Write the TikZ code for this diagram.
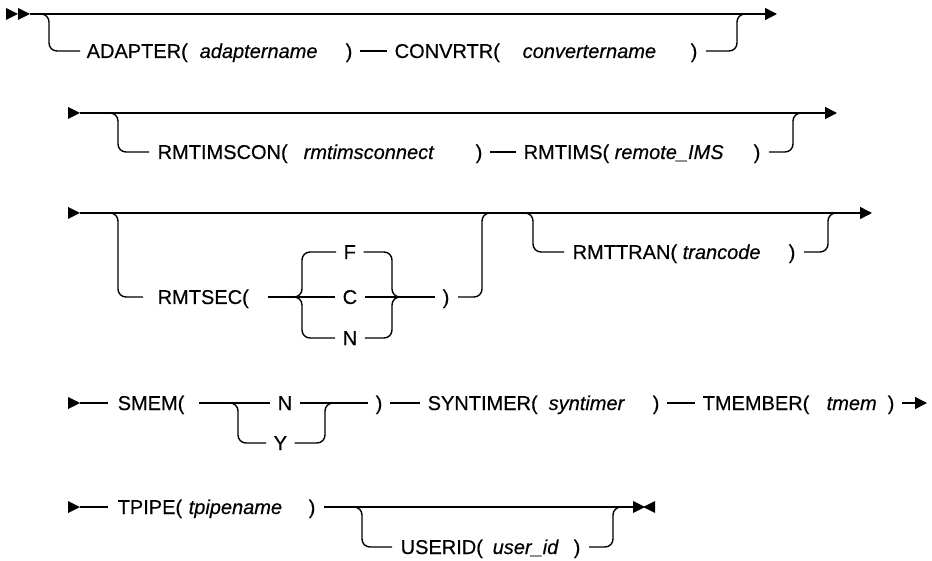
\documentclass[tikz,border=0pt]{standalone}
\usepackage{fontspec}
\setmainfont{Liberation Sans}
\newfontfamily\rrfam[FakeBold=0.4]{Liberation Sans}
\usetikzlibrary{arrows.meta}
\newcommand{\rrfont}{\rrfam\fontsize{20}{24}\selectfont}
\tikzset{
  rr/.style={x=1pt, y=-1pt, line width=1.4pt,
             every node/.style={inner sep=0pt, text height=14pt, text depth=0pt, anchor=west, font=\rrfont}},
  rail/.style={draw, rounded corners=8pt},
  gap/.style={shorten <=7pt, shorten >=7pt},
  var/.style={font=\rrfont\itshape},
  fin/.style={-{Triangle[length=12pt,width=12pt]}},
  tri/.pic={\fill (0,-6) -- (12,0) -- (0,6) -- cycle;}
}

\begin{document}
\begin{tikzpicture}[rr]
\useasboundingbox (0,0) rectangle (932,561);
% row 1
\pic at (6,14) {tri}; \pic at (18,14) {tri};
\coordinate (r1s) at (30,14); \coordinate (r1e) at (777,14);
\coordinate (b1a) at (39,14); \coordinate (b1b) at (745,14);
\node (adp) at (86,51) {ADAPTER(};
\node[var] (adpv) at (199,51) {adaptername};
\node (adpc) at (345,51) {)};
\node (cnv) at (394,51) {CONVRTR(};
\node[var] (cnvv) at (522,51) {convertername};
\node (cnvc) at (690,51) {)};
\draw[rail, fin] (r1s) -- (r1e);
\draw[rail, shorten >=6pt] (b1a) -- ++(10,0) |- (adp.west);
\draw[rail, gap] (adpc.east) -- (cnv.west);
\draw[rail, shorten <=8pt] (cnvc.east) -| ([xshift=-8pt]b1b) -- (b1b);
% row 2
\pic at (68,113) {tri};
\coordinate (r2s) at (80,113); \coordinate (r2e) at (837,113);
\coordinate (b2a) at (110,113); \coordinate (b2b) at (801,113);
\node (rtc) at (157,152) {RMTIMSCON(};
\node[var] (rtcv) at (303,152) {rmtimsconnect};
\node (rtcc) at (475,152) {)};
\node (rti) at (523,152) {RMTIMS(};
\node[var] (rtiv) at (614,152) {remote\_IMS};
\node (rtic) at (753,152) {)};
\draw[rail, fin] (r2s) -- (r2e);
\draw[rail, shorten >=8pt] (b2a) -- ++(8,0) |- (rtc.west);
\draw[rail, gap] (rtcc.east) -- (rti.west);
\draw[rail, shorten <=8pt] (rtic.east) -| ([xshift=-8pt]b2b) -- (b2b);
% row 3
\pic at (68,213) {tri};
\coordinate (r3s) at (80,213); \coordinate (r3e) at (872,213);
\coordinate (b3a) at (110,213); \coordinate (b3b) at (490,213);
\coordinate (b3c) at (525,213); \coordinate (b3d) at (836,213);
\coordinate (cl) at (294,297); \coordinate (cr) at (400,297);
\node (sec) at (157,297) {RMTSEC(};
\node (fF) at (343,252) {F};
\node (fC) at (342,297) {C};
\node (fN) at (342,338) {N};
\node (secc) at (442,297) {)};
\node (tr) at (572,252) {RMTTRAN(};
\node[var] (trv) at (682,252) {trancode};
\node (trc) at (788,252) {)};
\draw[rail, fin] (r3s) -- (r3e);
\draw[rail, shorten >=14pt] (b3a) -- ++(8,0) |- (sec.west);
\draw[rail, shorten <=18pt, shorten >=7pt] (sec.east) -- (fC.west);
\draw[rail, shorten >=7pt] (cl) -- ++(8,0) |- (fF.west);
\draw[rail, shorten >=7pt] (cl) -- ++(8,0) |- (fN.west);
\draw[rail, shorten <=7pt] (fF.east) -| ([xshift=-8pt]cr) -- (cr);
\draw[rail, shorten <=7pt] (fN.east) -| ([xshift=-8pt]cr) -- (cr);
\draw[rail, gap] (fC.east) -- (secc.west);
\draw[rail, shorten <=8pt] (secc.east) -| ([xshift=-8pt]b3b) -- (b3b);
\draw[rail, shorten >=8pt] (b3c) -- ++(8,0) |- (tr.west);
\draw[rail, shorten <=8pt] (trc.east) -| ([xshift=-8pt]b3d) -- (b3d);
% row 4
\pic at (68,403) {tri};
\coordinate (r4s) at (80,403); \coordinate (r4e) at (927,403);
\coordinate (yl) at (230,403); \coordinate (yr) at (333,403);
\node (sm) at (117,403) {SMEM(};
\node (nN) at (277,403) {N};
\node (nY) at (273,443) {Y};
\node (smc) at (375,403) {)};
\node (syn) at (427,403) {SYNTIMER(};
\node[var] (synv) at (548,403) {syntimer};
\node (sync) at (652,403) {)};
\node (tmb) at (702,403) {TMEMBER(};
\node[var] (tmbv) at (826,403) {tmem};
\node (tmbc) at (887,403) {)};
\draw[rail, shorten >=9pt] (r4s) -- (sm.west);
\draw[rail, shorten <=14pt, shorten >=7pt] (sm.east) -- (nN.west);
\draw[rail, gap] (nN.east) -- (smc.west);
\draw[rail, shorten >=7pt] (yl) -- ++(8,0) |- (nY.west);
\draw[rail, shorten <=7pt] (nY.east) -| ([xshift=-8pt]yr) -- (yr);
\draw[rail, gap] (smc.east) -- (syn.west);
\draw[rail, gap] (sync.east) -- (tmb.west);
\draw[rail, fin, shorten <=7pt] (tmbc.east) -- (r4e);
% row 5
\pic at (68,507) {tri};
\coordinate (r5s) at (80,507); \coordinate (r5e) at (633,507);
\coordinate (b5a) at (353,507); \coordinate (b5b) at (621,507);
\node (tp) at (117,507) {TPIPE(};
\node[var] (tpv) at (188,507) {tpipename};
\node (tpc) at (308,507) {)};
\node (usr) at (400,547) {USERID(};
\node[var] (usrv) at (492,547) {user\_id};
\node (usrc) at (573,547) {)};
\draw[rail, shorten >=9pt] (r5s) -- (tp.west);
\draw[rail, shorten <=8pt] (tpc.east) -- (r5e);
\draw[rail, shorten >=8pt] (b5a) -- ++(9,0) |- (usr.west);
\draw[rail, shorten <=8pt] (usrc.east) -| ([xshift=-8pt]b5b) -- (b5b);
\pic at (633,507) {tri}; \pic[rotate=180] at (655,507) {tri};
\end{tikzpicture}
\end{document}
